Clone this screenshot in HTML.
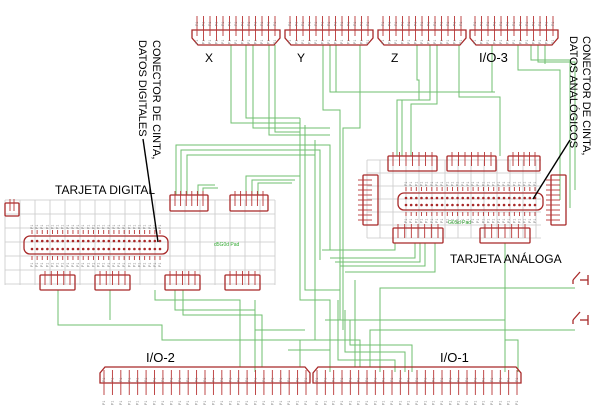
<!DOCTYPE html>
<html><head><meta charset="utf-8"><style>
html,body{margin:0;padding:0;background:#fff;width:602px;height:417px;overflow:hidden}
svg{display:block}
text{font-family:"Liberation Sans",sans-serif}
</style></head><body>
<svg id="s" width="602" height="417" viewBox="0 0 602 417" xmlns="http://www.w3.org/2000/svg">
<g id="grid" stroke="#c8c8c8" stroke-width="0.8" fill="none"></g>
<g id="wires" stroke="#6fbf6f" stroke-width="1" fill="none"></g>
<g id="parts" stroke="#a82828" stroke-width="1.3" fill="none"></g>
<g id="pins" stroke="#b83535" stroke-width="0.9"></g>
<g id="lbl" fill="#777" font-size="3.5"></g>
<g fill="#000" font-size="12">
<text x="205" y="62">X</text>
<text x="297" y="62">Y</text>
<text x="391" y="62">Z</text>
<text x="479" y="62" font-size="13">I/O-3</text>
<text x="55" y="194" font-size="12">TARJETA DIGITAL</text>
<text x="450" y="263" font-size="12">TARJETA ANÁLOGA</text>
<text x="146" y="362" font-size="13">I/O-2</text>
<text x="440" y="362" font-size="13">I/O-1</text>
<text transform="translate(153,40) rotate(90)" font-size="11">CONECTOR DE CINTA,</text>
<text transform="translate(139,40) rotate(90)" font-size="11">DATOS DIGITALES</text>
<text transform="translate(583,36) rotate(90)" font-size="11">CONECTOR DE CINTA,</text>
<text transform="translate(570,36) rotate(90)" font-size="11">DATOS ANALÓGICOS</text>
<text x="214" y="246" font-size="5" fill="#3a3">d5G0d Pad</text>
<text x="448" y="224" font-size="5" fill="#3a3">G0Sd Pad</text>
</g>
<g stroke="#000" stroke-width="1.4"><line x1="143" y1="139" x2="158" y2="242"/><line x1="570" y1="140" x2="533" y2="199"/></g>
</svg>
<script>
var NS="http://www.w3.org/2000/svg";
function el(g,t,a){var e=document.createElementNS(NS,t);for(var k in a)e.setAttribute(k,a[k]);document.getElementById(g).appendChild(e);return e;}
function line(g,x1,y1,x2,y2){el(g,"line",{x1:x1,y1:y1,x2:x2,y2:y2});}
function lab(x,y){var e=el("lbl","text",{transform:"translate("+x+","+y+") rotate(-90)"});e.textContent="P1";}
function grid(x0,y0,x1,y1,dx,dy){for(var x=x0;x<=x1;x+=dx)line("grid",x,y0,x,y1);for(var y=y0;y<=y1;y+=dy)line("grid",x0,y,x1,y);}
grid(5,200,275,285,15,14);
grid(367,160,541,238,13,13);
function rect(x,y,w,h,r){el("parts","rect",{x:x,y:y,width:w,height:h,rx:r||0});}
function hdr(x,y,w,h,n){rect(x,y,w,h,1);for(var i=0;i<n;i++){var px=x+5+i*(w-10)/(n-1||1);line("pins",px,y-4,px,y+h-5);}}
function vhdr(x,y,w,h,n){rect(x,y,w,h,1);for(var i=0;i<n;i++){var py=y+5+i*(h-10)/(n-1);line("pins",x-5,py,x+w-6,py);}}
function db(x,y,w,n){el("parts","path",{d:"M"+x+" "+y+" H"+(x+w)+" V"+(y+8)+" L"+(x+w-6)+" "+(y+15)+" H"+(x+6)+" L"+x+" "+(y+8)+" Z"});
 for(var i=0;i<n;i++){var px=x+5+i*(w-10)/(n-1);line("pins",px,y-14,px,y+(i%2?11:6));lab(px+1,y-4);lab(px+1,y+14);}}
db(192,30,88,13);db(285,30,88,13);db(378,30,88,13);db(470,30,88,13);
function io(x,y,w,n){el("parts","path",{d:"M"+(x+5)+" "+y+" H"+(x+w-5)+" L"+(x+w)+" "+(y+6)+" V"+(y+16)+" H"+x+" V"+(y+6)+" Z"});
 for(var i=0;i<n;i++){var px=x+4+i*(w-8)/(n-1);line("pins",px,y+3,px,y+28);lab(px+1,y+15);lab(px+1,y+38);}}
io(100,367,210,25);io(313,367,208,25);
hdr(5,203,14,13,2);
hdr(170,195,38,16,6);hdr(230,195,38,16,6);
function big(x,y,w,h,n){el("parts","rect",{x:x,y:y,width:w,height:h,rx:6});for(var r=0;r<2;r++)for(var i=0;i<n;i++)el("pins","circle",{cx:x+8+i*(w-16)/(n-1),cy:y+5+r*(h-10),r:1.3,fill:"#a82828",stroke:"none"});
 for(var i=0;i<n;i++){var px=x+8+i*(w-16)/(n-1);line("pins",px,y-6,px,y-2);line("pins",px,y+h+2,px,y+h+6);lab(px+1,y-7);lab(px+1,y+h+13);}}
big(24,236,144,18,26);
hdr(40,275,35,15,5);hdr(95,275,35,15,5);hdr(165,275,35,15,5);hdr(225,275,35,15,5);
hdr(388,156,49,15,7);hdr(447,156,49,15,7);hdr(508,156,32,15,5);
vhdr(363,175,15,50,9);vhdr(551,175,15,50,9);
big(398,193,145,17,26);
hdr(393,228,50,15,7);hdr(480,228,50,15,7);
[280,320].forEach(function(y){line("parts",573,y,580,y-8);line("parts",580,y,588,y);line("parts",588,y-5,588,y+5);line("parts",573,y,573,y+4);});
var W=[
"M231 45V123H300","M246 45V118H300","M253 45V128H330","M269 45V135H330","M275 45V132H300",
"M176 195V145H330V250","M181 195V150H320V260","M187 195V155H315V265","M198 195V185H215","M203 195V188H218",
"M246 195V176H300","M252 195V180H295","M258 195V183H292",
"M323 45V110H340V320","M330 45V92H495","M336 45V92","M360 45V128H343V330",
"M417 45V80H419V100H397V156","M430 45V100H402V156","M437 45V104H411V156","M459 45V97H500V156",
"M492 45V92","M518 45V70H560V200","M531 45V60H570V208","M538 45V62H575V190","M545 45V64",
"M307 150H320","M300 118V300H330V367","M305 125V290H340","M315 140V340H360V367",
"M255 300V330H305","M58 290V325H162V340H300V367","M110 290V320","M175 290V310H255V372","M155 290V300H240V367","M183 290V315H262V367",
"M415 243V258H330","M420 243V262H335","M425 243V266H340","M435 243V272H345",
"M395 243V250H322",
"M575 288H380V372","M575 330H370V367","M355 280V367","M505 243V340H518V372",
"M338 300V360H395V372","M345 310V352H405V372","M350 320V345H412V372",
"M325 320H505V372","M300 340H340","M288 350H330V372"
];
W.forEach(function(d){el("wires","path",{d:d});});
</script>
</body></html>
